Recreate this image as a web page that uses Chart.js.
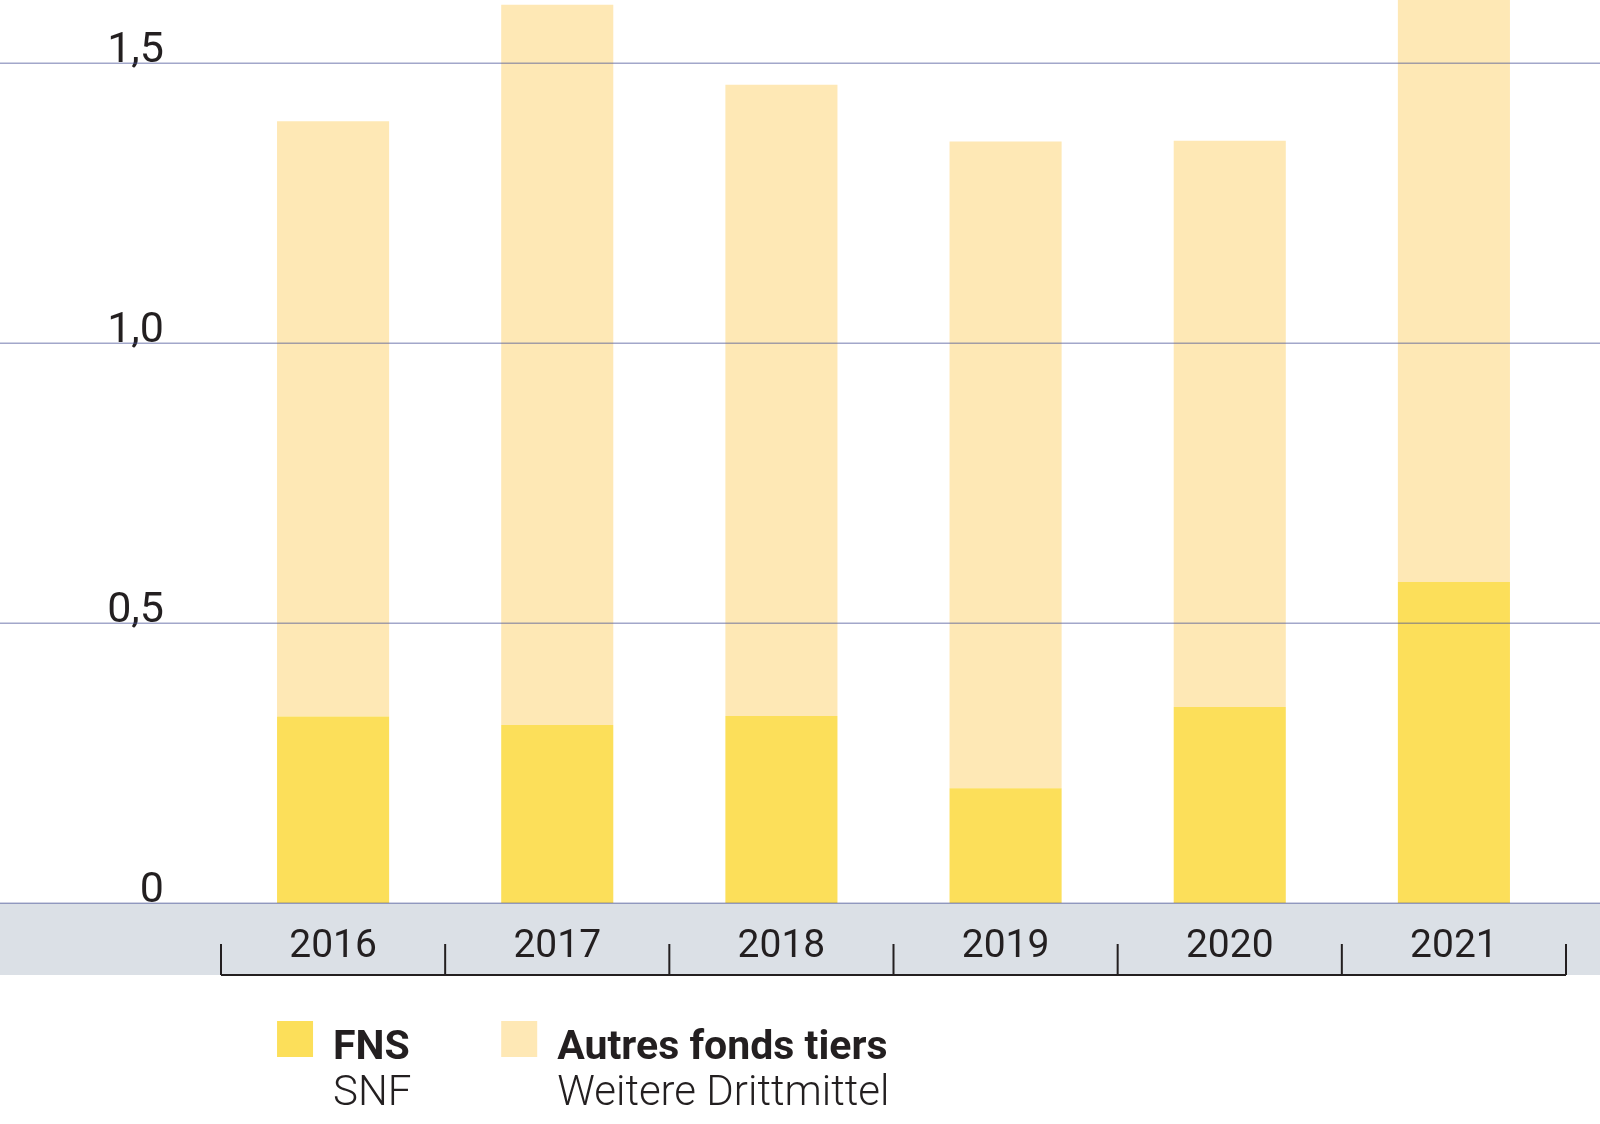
<!DOCTYPE html>
<html>
<head>
<meta charset="utf-8">
<script src="https://cdn.jsdelivr.net/npm/chart.js@4.4.1/dist/chart.umd.min.js"></script>
<style>
  html, body { margin: 0; padding: 0; background: #ffffff; }
  #wrap { width: 1600px; height: 1124px; }
</style>
</head>
<body>
<div id="wrap"><canvas id="chart" width="1600" height="1124"></canvas></div>
<script>
const years = ['2016', '2017', '2018', '2019', '2020', '2021'];
const fnsValues = [0.333, 0.318, 0.334, 0.205, 0.350, 0.573];
const autresValues = [1.063, 1.286, 1.127, 1.155, 1.011, 1.177];
const tickValues = [0, 0.5, 1.0, 1.5];
const tickLabels = ['0', '0,5', '1,0', '1,5'];
const legendTitles = ['FNS', 'Autres fonds tiers'];
const legendSubtitles = ['SNF', 'Weitere Drittmittel'];

const FONT = 'Roboto, "Noto Sans", sans-serif';
const INK = '#231f20';

// grey band, bracket, year labels, grid lines and legend
const decorations = {
  id: 'decorations',
  afterDatasetsDraw(chart) {
    const { ctx, width, scales: { x, y } } = chart;
    const zero = y.getPixelForValue(0);
    const bandBottom = zero + 72;
    ctx.save();

    ctx.fillStyle = '#dbe0e6';
    ctx.fillRect(0, zero, width, bandBottom - zero);

    // grid lines across the whole width
    ctx.strokeStyle = 'rgba(70, 80, 150, 0.5)';
    ctx.lineWidth = 1.5;
    tickValues.forEach((v) => {
      const py = Math.round(y.getPixelForValue(v)) + 0.25;
      ctx.beginPath();
      ctx.moveTo(0, py);
      ctx.lineTo(width, py);
      ctx.stroke();
    });

    // bracket under the years
    const half = (x.getPixelForValue(1) - x.getPixelForValue(0)) / 2;
    const left = x.getPixelForValue(0) - half;
    const right = x.getPixelForValue(years.length - 1) + half;
    ctx.strokeStyle = INK;
    ctx.lineWidth = 2;
    ctx.beginPath();
    ctx.moveTo(left, bandBottom);
    ctx.lineTo(right, bandBottom);
    for (let i = 0; i <= years.length; i++) {
      const bx = left + i * half * 2;
      ctx.moveTo(bx, bandBottom);
      ctx.lineTo(bx, bandBottom - 31);
    }
    ctx.stroke();

    ctx.fillStyle = INK;
    ctx.font = '400 39px ' + FONT;
    ctx.textAlign = 'center';
    ctx.textBaseline = 'alphabetic';
    years.forEach((yr, i) => {
      ctx.fillText(yr, x.getPixelForValue(i), zero + 54);
    });

    // legend, each item under the first bars
    ctx.textAlign = 'left';
    chart.data.datasets.forEach((ds, i) => {
      const bar = chart.getDatasetMeta(i).data[i];
      const lx = bar.x - bar.width / 2;
      ctx.fillStyle = ds.backgroundColor;
      ctx.fillRect(lx, 1021, 36, 36);
      ctx.fillStyle = INK;
      ctx.font = '700 41px ' + FONT;
      ctx.fillText(legendTitles[i], lx + 56, 1059);
      ctx.font = '300 42px ' + FONT;
      ctx.fillText(legendSubtitles[i], lx + 56, 1105);
    });

    ctx.restore();
  },
};

new Chart(document.getElementById('chart'), {
  type: 'bar',
  data: {
    labels: years,
    datasets: [
      {
        label: 'FNS',
        data: fnsValues,
        backgroundColor: '#fcdf5a',
        barPercentage: 1,
        categoryPercentage: 0.5,
      },
      {
        label: 'Autres fonds tiers',
        data: autresValues,
        backgroundColor: '#fee8b5',
        barPercentage: 1,
        categoryPercentage: 0.5,
      },
    ],
  },
  options: {
    responsive: false,
    animation: false,
    layout: {
      padding: { top: 0, right: 34, bottom: 221, left: 0 },
    },
    scales: {
      x: {
        stacked: true,
        display: false,
      },
      y: {
        stacked: true,
        min: 0,
        max: 1.6125,
        position: 'left',
        grid: { display: false },
        border: { display: false },
        afterBuildTicks: (scale) => {
          scale.ticks = tickValues.map((tick) => {
            return { value: tick };
          });
        },
        afterFit: (scale) => {
          scale.width = 221;
          scale.paddingTop = 0;
          scale.paddingBottom = 0;
        },
        ticks: {
          callback: function (val) {
            const idx = tickValues.indexOf(val);
            return idx >= 0 ? tickLabels[idx] : '';
          },
          padding: 49,
          labelOffset: -12,
          color: INK,
          font: {
            size: 43,
            weight: 400,
            family: FONT,
          },
        },
      },
    },
    plugins: {
      legend: { display: false },
      tooltip: { enabled: false },
    },
  },
  plugins: [decorations],
});
</script>
</body>
</html>
